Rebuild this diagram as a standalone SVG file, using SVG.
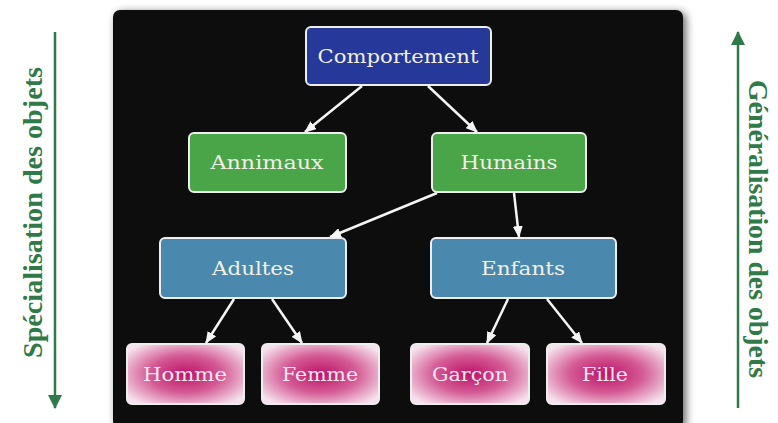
<svg xmlns="http://www.w3.org/2000/svg" width="778" height="423" viewBox="0 0 778 423">
<style>
.box{stroke:#eeeeee;stroke-width:2}
.lbl{font-family:"DejaVu Serif","Liberation Serif",serif;font-size:19px;fill:#f2f0e6;text-anchor:middle}
.pl{fill:#f8e8f2}
.con{stroke:#f4f4f4;stroke-width:2.5;fill:none;marker-end:url(#ah)}
.side{font-family:"Liberation Serif",serif;font-weight:bold;font-size:27px;fill:#2f7a48}
</style>
<defs>
<marker id="ah" viewBox="0 0 12 10" refX="11" refY="5" markerWidth="12" markerHeight="10" markerUnits="userSpaceOnUse" orient="auto">
<path d="M0,0 L12,5 L0,10 Z" fill="#f4f4f4"/>
</marker>
<marker id="gh" viewBox="0 0 14 14" refX="13" refY="7" markerWidth="14" markerHeight="14" markerUnits="userSpaceOnUse" orient="auto">
<path d="M0,0 L14,7 L0,14 Z" fill="#2f7a48"/>
</marker>
<radialGradient id="pink" cx="50%" cy="50%" r="62%">
<stop offset="0" stop-color="#bd1266"/>
<stop offset="0.5" stop-color="#d45b95"/>
<stop offset="1" stop-color="#f6e2ed"/>
</radialGradient>
<filter id="sh" x="-5%" y="-5%" width="110%" height="110%">
<feGaussianBlur in="SourceAlpha" stdDeviation="4"/>
<feOffset dx="3" dy="2"/>
<feComponentTransfer><feFuncA type="linear" slope="0.6"/></feComponentTransfer>
<feMerge><feMergeNode/><feMergeNode in="SourceGraphic"/></feMerge>
</filter>
</defs>
<rect width="778" height="423" fill="#ffffff"/>
<rect id="panel" x="113" y="10" width="570" height="418" rx="7" fill="#0a0c0e" filter="url(#sh)"/>

<g id="side-left">
<line x1="55" y1="32" x2="55" y2="408" stroke="#2f7a48" stroke-width="2.5" marker-end="url(#gh)"/>
<text class="side" transform="translate(42,358) rotate(-90)" textLength="291" lengthAdjust="spacingAndGlyphs">Spécialisation des objets</text>
</g>
<g id="side-right">
<line x1="738" y1="408" x2="738" y2="32" stroke="#2f7a48" stroke-width="2.5" marker-end="url(#gh)"/>
<text class="side" transform="translate(749,80) rotate(90)" textLength="298" lengthAdjust="spacingAndGlyphs">Généralisation des objets</text>
</g>

<g id="connectors">
<line class="con" x1="362" y1="86" x2="305" y2="132"/>
<line class="con" x1="428" y1="86" x2="477" y2="132"/>
<line class="con" x1="437" y1="193" x2="330" y2="237"/>
<line class="con" x1="514" y1="193" x2="519" y2="237"/>
<line class="con" x1="234" y1="299" x2="206" y2="343"/>
<line class="con" x1="272" y1="299" x2="302" y2="343"/>
<line class="con" x1="508" y1="299" x2="487" y2="343"/>
<line class="con" x1="547" y1="299" x2="582" y2="343"/>
</g>

<g id="comportement">
<rect class="box" x="306" y="27" width="185" height="58" rx="5" fill="#26389a"/>
<text class="lbl" x="398" y="63" textLength="161" lengthAdjust="spacingAndGlyphs">Comportement</text>
</g>
<g id="annimaux">
<rect class="box" x="189" y="133" width="157" height="59" rx="5" fill="#4aa448"/>
<text class="lbl" x="267" y="169" textLength="113" lengthAdjust="spacingAndGlyphs">Annimaux</text>
</g>
<g id="humains">
<rect class="box" x="432" y="133" width="154" height="59" rx="5" fill="#4aa448"/>
<text class="lbl" x="509" y="169" textLength="97" lengthAdjust="spacingAndGlyphs">Humains</text>
</g>
<g id="adultes">
<rect class="box" x="160" y="238" width="186" height="60" rx="5" fill="#4a89ad"/>
<text class="lbl" x="253" y="275" textLength="82" lengthAdjust="spacingAndGlyphs">Adultes</text>
</g>
<g id="enfants">
<rect class="box" x="431" y="238" width="185" height="60" rx="5" fill="#4a89ad"/>
<text class="lbl" x="523" y="275" textLength="84" lengthAdjust="spacingAndGlyphs">Enfants</text>
</g>
<g id="homme">
<rect class="box" x="127" y="344" width="117" height="60" rx="5" fill="url(#pink)"/>
<text class="lbl pl" x="185" y="381" textLength="84" lengthAdjust="spacingAndGlyphs">Homme</text>
</g>
<g id="femme">
<rect class="box" x="262" y="344" width="117" height="60" rx="5" fill="url(#pink)"/>
<text class="lbl pl" x="320" y="381" textLength="76" lengthAdjust="spacingAndGlyphs">Femme</text>
</g>
<g id="garcon">
<rect class="box" x="411" y="344" width="118" height="60" rx="5" fill="url(#pink)"/>
<text class="lbl pl" x="470" y="381" textLength="76" lengthAdjust="spacingAndGlyphs">Garçon</text>
</g>
<g id="fille">
<rect class="box" x="547" y="344" width="118" height="60" rx="5" fill="url(#pink)"/>
<text class="lbl pl" x="605" y="381" textLength="46" lengthAdjust="spacingAndGlyphs">Fille</text>
</g>
</svg>
